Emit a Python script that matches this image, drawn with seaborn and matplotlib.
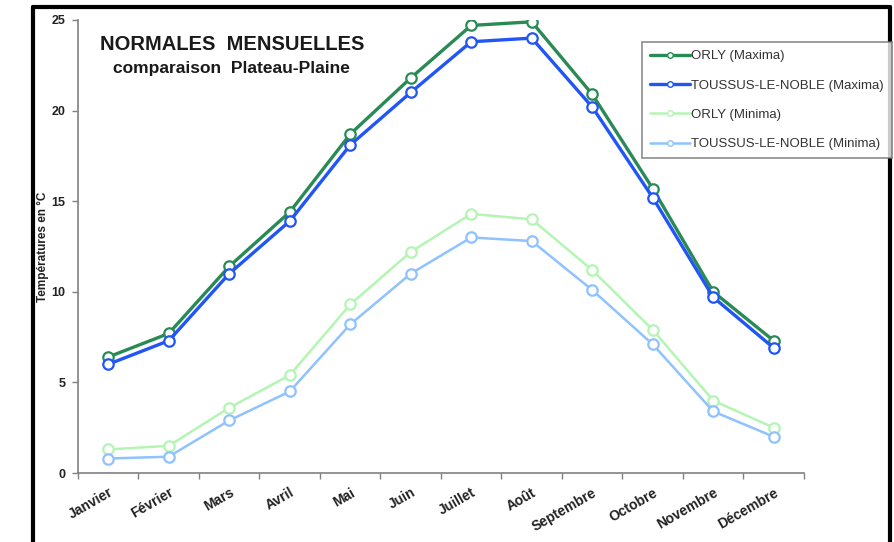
import matplotlib
matplotlib.use("Agg")
import matplotlib.pyplot as plt
from matplotlib.lines import Line2D
import seaborn as sns
import pandas as pd

# Monthly normals (°C)
months = ["Janvier", "Février", "Mars", "Avril", "Mai", "Juin", "Juillet",
          "Août", "Septembre", "Octobre", "Novembre", "Décembre"]
orly_max = [6.4, 7.7, 11.4, 14.4, 18.7, 21.8, 24.7, 24.9, 20.9, 15.7, 10.0, 7.3]
toussus_max = [6.0, 7.3, 11.0, 13.9, 18.1, 21.0, 23.8, 24.0, 20.2, 15.2, 9.7, 6.9]
orly_min = [1.3, 1.5, 3.6, 5.4, 9.3, 12.2, 14.3, 14.0, 11.2, 7.9, 4.0, 2.5]
toussus_min = [0.8, 0.9, 2.9, 4.5, 8.2, 11.0, 13.0, 12.8, 10.1, 7.1, 3.4, 2.0]

series_names = ["ORLY (Maxima)", "TOUSSUS-LE-NOBLE (Maxima)",
                "ORLY (Minima)", "TOUSSUS-LE-NOBLE (Minima)"]
series_values = [orly_max, toussus_max, orly_min, toussus_min]
colors = ["#2a8a55", "#2255f5", "#b4f5b4", "#8fc2ff"]
widths = [2.4, 2.4, 1.8, 1.8]

sns.set_theme(style="white")
plt.rcParams["font.family"] = ["Liberation Sans", "DejaVu Sans"]

fig = plt.figure(figsize=(8.94, 5.42), dpi=100)
ax = fig.add_axes([0.0872, 0.1273, 0.8121, 0.8358])

for name, vals, col, lw in zip(series_names, series_values, colors, widths):
    df = pd.DataFrame({"mois": months, "temp": vals})
    sns.lineplot(data=df, x="mois", y="temp", ax=ax, color=col, linewidth=lw,
                 marker="o", markersize=7.5, markerfacecolor="white",
                 markeredgecolor=col, markeredgewidth=1.6, label=name,
                 sort=False)

ax.set_xlim(-0.5, len(months) - 0.5)
ax.set_ylim(0, 25)
ax.set_yticks([0, 5, 10, 15, 20, 25])
ax.set_xticks(range(len(months)))
ax.set_xticks([i - 0.5 for i in range(len(months) + 1)], minor=True)
ax.set_xticklabels(months, rotation=30, ha="right", rotation_mode="anchor",
                   fontsize=10, fontweight="bold", color="#222222")
for lab in ax.get_yticklabels():
    lab.set_fontsize(9)
    lab.set_fontweight("bold")
    lab.set_color("#222222")
ax.tick_params(axis="x", which="major", length=0, pad=9)
ax.tick_params(axis="x", which="minor", length=4, width=1, color="#808080",
               direction="out", bottom=True)
ax.tick_params(axis="y", length=4, width=1, color="#808080", direction="out",
               left=True, pad=5)
ax.set_xlabel("")
ax.set_ylabel("Températures en °C", fontsize=8.5, fontweight="bold",
              color="#222222")
ax.yaxis.set_label_coords(-0.0405, 0.5)
for side in ["top", "right"]:
    ax.spines[side].set_visible(False)
for side in ["left", "bottom"]:
    ax.spines[side].set_color("#808080")
    ax.spines[side].set_linewidth(1.2)

ax.text(0.212, 0.947, "NORMALES  MENSUELLES", transform=ax.transAxes,
        ha="center", va="center", fontsize=14.5, fontweight="bold",
        color="#1a1a1a")
ax.text(0.212, 0.892, "comparaison  Plateau-Plaine", transform=ax.transAxes,
        ha="center", va="center", fontsize=12.5, fontweight="bold",
        color="#1a1a1a")

ax.get_legend().remove()
handles = [Line2D([0], [0], color=c, lw=w, marker="o", markersize=4,
                  markerfacecolor="white", markeredgecolor=c, markeredgewidth=1)
           for c, w in zip(colors, widths)]
leg = fig.legend(handles, series_names, loc="upper left",
                 bbox_to_anchor=(642 / 894, 1 - 42 / 542),
                 fontsize=9.5, frameon=True, fancybox=False,
                 handlelength=3.0, labelspacing=1.3, borderpad=0.6,
                 handletextpad=0.15, borderaxespad=0)
leg.get_frame().set_edgecolor("#707070")
leg.get_frame().set_linewidth(1.2)
for t in leg.get_texts():
    t.set_color("#333333")

# Black frame around the chart
frame_kw = dict(color="black", lw=3, transform=fig.transFigure, clip_on=False)
fig.add_artist(Line2D([33 / 894, 33 / 894], [0, 1 - 7 / 542], **frame_kw))
fig.add_artist(Line2D([33 / 894, 890 / 894], [1 - 7 / 542, 1 - 7 / 542], **frame_kw))
fig.add_artist(Line2D([890 / 894, 890 / 894], [0, 1 - 7 / 542], **frame_kw))

fig.savefig("out.png", dpi=100)
